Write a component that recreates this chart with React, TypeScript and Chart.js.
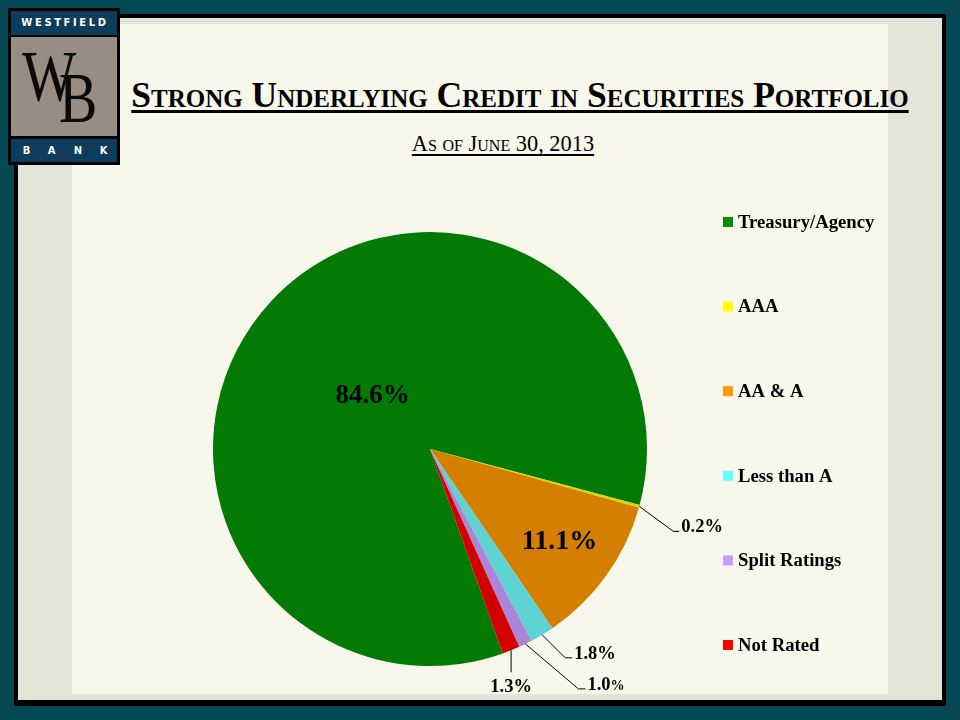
import React, { useEffect, useRef } from "react";
import { Chart, registerables } from "chart.js";

Chart.register(...registerables);

// ---- data ----
const categories = ["Treasury/Agency", "AAA", "AA & A", "Less than A", "Split Ratings", "Not Rated"];
const shares = [84.6, 0.2, 11.1, 1.8, 1.0, 1.3];
const sliceColors = ["#037a03", "#d8d800", "#d47f00", "#5fd3d3", "#a987d6", "#d30000"];
const legendColors = ["#0a8a0a", "#ffff00", "#ff9900", "#66ffff", "#cc99ff", "#ff0000"];
const titleText = "Strong Underlying Credit in Securities Portfolio";
const subtitleText = "As of June 30, 2013";
const logoTop = "WESTFIELD";
const logoBottom = ["B", "A", "N", "K"];

// ---- label styling (layout, not data) ----
type LabelSpec =
  | { mode: "inside"; frac: number; size: number }
  | { mode: "leader"; dx: number; dy: number; tail: number; size: number; smallPct?: boolean }
  | { mode: "below"; len: number; size: number };

const labelSpecs: LabelSpec[] = [
  { mode: "inside", frac: 0.36, size: 27 },
  { mode: "leader", dx: 34, dy: 25, tail: 6, size: 18.5 },
  { mode: "inside", frac: 0.735, size: 28 },
  { mode: "leader", dx: 23, dy: 23, tail: 7, size: 18.5 },
  { mode: "leader", dx: 53, dy: 45, tail: 7, size: 18.5, smallPct: true },
  { mode: "below", len: 22, size: 18.5 },
];

const SERIF = '"Liberation Serif", "Times New Roman", Times, serif';

const sliceLabelPlugin = {
  id: "sliceLabels",
  afterDatasetsDraw(chart: any) {
    const ctx = chart.ctx as CanvasRenderingContext2D;
    const meta = chart.getDatasetMeta(0);
    const values = chart.data.datasets[0].data as number[];
    meta.data.forEach((arc: any, i: number) => {
      const p = arc.getProps(["x", "y", "startAngle", "endAngle", "outerRadius"], true);
      const mid = (p.startAngle + p.endAngle) / 2;
      const spec = labelSpecs[i];
      const num = values[i].toFixed(1);
      const text = num + "%";
      ctx.save();
      ctx.fillStyle = "#000";
      ctx.strokeStyle = "#000";
      ctx.lineWidth = 1;
      if (spec.mode === "inside") {
        const r = p.outerRadius * spec.frac;
        ctx.font = `bold ${spec.size}px ${SERIF}`;
        ctx.textAlign = "center";
        ctx.textBaseline = "middle";
        ctx.fillText(text, p.x + Math.cos(mid) * r, p.y + Math.sin(mid) * r);
      } else {
        const ax = p.x + Math.cos(mid) * p.outerRadius;
        const ay = p.y + Math.sin(mid) * p.outerRadius;
        if (spec.mode === "leader") {
          const ex = ax + spec.dx;
          const ey = ay + spec.dy;
          ctx.beginPath();
          ctx.moveTo(ax, ay);
          ctx.lineTo(ex, ey);
          ctx.lineTo(ex + spec.tail, ey);
          ctx.stroke();
          ctx.textAlign = "left";
          ctx.textBaseline = "alphabetic";
          const tx = ex + spec.tail + 2;
          const ty = ey + 1;
          if (spec.smallPct) {
            ctx.font = `bold ${spec.size}px ${SERIF}`;
            ctx.fillText(num, tx, ty);
            const w = ctx.measureText(num).width;
            ctx.font = `bold ${Math.round(spec.size * 0.75)}px ${SERIF}`;
            ctx.fillText("%", tx + w, ty);
          } else {
            ctx.font = `bold ${spec.size}px ${SERIF}`;
            ctx.fillText(text, tx, ty);
          }
        } else {
          ctx.beginPath();
          ctx.moveTo(ax, ay);
          ctx.lineTo(ax, ay + spec.len);
          ctx.stroke();
          ctx.font = `bold ${spec.size}px ${SERIF}`;
          ctx.textAlign = "center";
          ctx.textBaseline = "alphabetic";
          ctx.fillText(text, ax, ay + spec.len + 20);
        }
      }
      ctx.restore();
    });
  },
};

const legendPlugin = {
  id: "sideLegend",
  afterDraw(chart: any) {
    const ctx = chart.ctx as CanvasRenderingContext2D;
    const labels = chart.data.labels as string[];
    const x0 = 723;
    const y0 = 222;
    const step = 84.6;
    ctx.save();
    ctx.font = `bold 18.7px ${SERIF}`;
    ctx.textBaseline = "middle";
    ctx.textAlign = "left";
    labels.forEach((lab, i) => {
      const y = y0 + i * step;
      ctx.fillStyle = legendColors[i];
      ctx.fillRect(x0, y - 5, 10, 10);
      ctx.fillStyle = "#000";
      ctx.fillText(lab, x0 + 15, y + 1);
    });
    ctx.restore();
  },
};

export default function App() {
  const canvasRef = useRef<HTMLCanvasElement | null>(null);

  useEffect(() => {
    if (!canvasRef.current) return;
    const chart = new Chart(canvasRef.current, {
      type: "pie",
      data: {
        labels: categories,
        datasets: [
          {
            data: shares,
            backgroundColor: sliceColors,
            borderWidth: 0,
          },
        ],
      },
      options: {
        animation: false,
        responsive: false,
        rotation: 160.4,
        layout: { padding: { left: 213, right: 313, top: 232, bottom: 54 } },
        plugins: {
          legend: { display: false },
          tooltip: { enabled: false },
          title: { display: false },
        },
      },
      plugins: [sliceLabelPlugin, legendPlugin],
    });
    return () => chart.destroy();
  }, []);

  const abs = (s: React.CSSProperties): React.CSSProperties => ({ position: "absolute", ...s });
  const bankCenters = [26.5, 51.5, 78, 103.5];

  return (
    <div
      style={{
        position: "fixed",
        left: 0,
        top: 0,
        width: 960,
        height: 720,
        background: "#034852",
        overflow: "hidden",
        fontFamily: SERIF,
      }}
    >
      {/* slide frame */}
      <div style={abs({ left: 14, top: 14, width: 932, height: 692, background: "#000" })} />
      <div style={abs({ left: 18, top: 18, width: 924, height: 682, background: "#e4e4d9" })} />
      <div style={abs({ left: 72, top: 24, width: 816, height: 670, background: "#f7f7ec" })} />

      {/* logo */}
      <div style={abs({ left: 8, top: 8, width: 112, height: 157, background: "#000" })} />
      <div style={abs({ left: 11, top: 11, width: 106, height: 24, background: "#0d3d5a" })} />
      <div
        style={abs({
          left: 11,
          top: 11,
          width: 106,
          height: 24,
          color: "#fff",
          fontFamily: '"DejaVu Sans", sans-serif',
          fontWeight: "bold",
          fontSize: 10,
          letterSpacing: 2.6,
          lineHeight: "24px",
          textAlign: "center",
          textIndent: 2,
        })}
      >
        {logoTop}
      </div>
      <div style={abs({ left: 11, top: 37, width: 106, height: 99, background: "#988d83" })} />
      <div
        style={abs({
          left: 22,
          top: 40,
          fontSize: 72,
          lineHeight: "72px",
          color: "#0a0a0a",
          transform: "scaleX(0.8)",
          transformOrigin: "left top",
          fontFamily: SERIF,
        })}
      >
        W
      </div>
      <div
        style={abs({
          left: 59,
          top: 62,
          fontSize: 72,
          lineHeight: "72px",
          color: "#0a0a0a",
          transform: "scaleX(0.8)",
          transformOrigin: "left top",
          fontFamily: SERIF,
        })}
      >
        B
      </div>
      <div style={abs({ left: 11, top: 139, width: 106, height: 23, background: "#0d3d5a" })} />
      {logoBottom.map((ch, i) => (
        <div
          key={ch}
          style={abs({
            left: bankCenters[i] - 10,
            top: 139,
            width: 20,
            height: 23,
            color: "#fff",
            fontFamily: '"DejaVu Sans", sans-serif',
            fontWeight: "bold",
            fontSize: 10,
            lineHeight: "23px",
            textAlign: "center",
          })}
        >
          {ch}
        </div>
      ))}

      {/* title */}
      <div
        style={abs({
          left: 72,
          top: 75,
          width: 896,
          textAlign: "center",
          fontSize: 35.5,
          fontWeight: "bold",
          fontVariant: "small-caps",
          lineHeight: "40px",
          color: "#000",
          whiteSpace: "nowrap",
        })}
      >
        <span style={{ textDecoration: "underline", textDecorationThickness: 2.5, textUnderlineOffset: 3 }}>
          {titleText}
        </span>
      </div>
      <div
        style={abs({
          left: 72,
          top: 131,
          width: 862,
          textAlign: "center",
          fontSize: 22.4,
          fontVariant: "small-caps",
          lineHeight: "26px",
          color: "#000",
        })}
      >
        <span style={{ textDecoration: "underline", textUnderlineOffset: 3 }}>{subtitleText}</span>
      </div>

      <canvas
        ref={canvasRef}
        width={960}
        height={720}
        style={abs({ left: 0, top: 0, width: 960, height: 720 })}
      />
    </div>
  );
}
